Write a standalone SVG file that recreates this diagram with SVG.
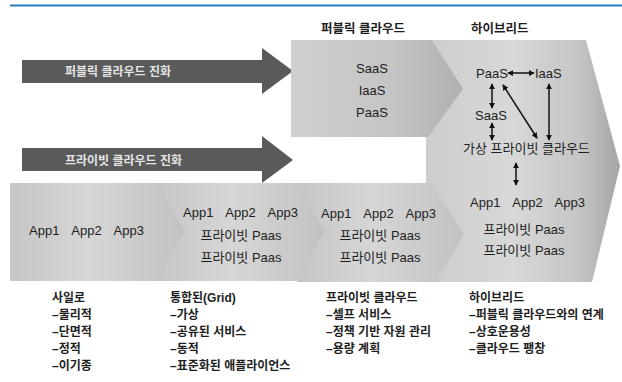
<svg xmlns="http://www.w3.org/2000/svg" width="622" height="382" viewBox="0 0 622 382">
<defs>
<linearGradient id="gHyb" x1="0" y1="0" x2="1" y2="0">
<stop offset="0" stop-color="#cdcdcd"/>
<stop offset="0.45" stop-color="#d8d8d8"/>
<stop offset="0.8" stop-color="#c4c4c4"/>
<stop offset="1" stop-color="#a4a4a4"/>
</linearGradient>
<linearGradient id="gPub" x1="0" y1="0" x2="1" y2="0">
<stop offset="0" stop-color="#d0d0d0"/>
<stop offset="0.6" stop-color="#c4c4c4"/>
<stop offset="1" stop-color="#b0b0b0"/>
</linearGradient>
<linearGradient id="gChev" x1="0" y1="0" x2="1" y2="0">
<stop offset="0" stop-color="#c6c6c6"/>
<stop offset="0.45" stop-color="#d6d6d6"/>
<stop offset="1" stop-color="#c2c2c2"/>
</linearGradient>
<marker id="ah" viewBox="0 0 8 8" refX="7" refY="4" markerWidth="6" markerHeight="6" markerUnits="userSpaceOnUse" orient="auto-start-reverse">
<path d="M0,0 L8,4 L0,8 z" fill="#111"/>
</marker>
<style>
.t{font-family:"Liberation Sans","Noto Sans CJK KR",sans-serif;fill:#1e1e1e;font-size:13px}
.c{text-anchor:middle}
.b{font-weight:bold;font-size:12px}
.h{font-weight:bold;font-size:12.5px}
.w{font-family:"Liberation Sans","Noto Sans CJK KR",sans-serif;font-weight:bold;font-size:12px;fill:#e4e4e4}
.arrow{fill:#5a5a5a}
.con{stroke:#111;stroke-width:1.5;fill:none;marker-start:url(#ah);marker-end:url(#ah)}
</style>
</defs>
<rect width="622" height="382" fill="#ffffff"/>
<line x1="10" y1="5.5" x2="622" y2="5.5" stroke="#2b7bbd" stroke-width="2"/>

<g id="public-evolution">
<polygon class="arrow" points="22,60 262,60 262,48 293,71 262,94 262,83 22,83"/>
<text class="w" x="65" y="76">퍼블릭 클라우드 진화</text>
</g>
<g id="private-evolution">
<polygon class="arrow" points="22,148 262,148 262,136 293,160 262,183 262,171 22,171"/>
<text class="w" x="65" y="165">프라이빗 클라우드 진화</text>
</g>

<g id="hybrid">
<polygon points="426,40 586,40 620,166 592,282 426,282" fill="url(#gHyb)"/>
<text class="t h" x="471" y="33">하이브리드</text>
<text class="t" x="476" y="78">PaaS</text>
<text class="t" x="535" y="78">IaaS</text>
<text class="t" x="475" y="120">SaaS</text>
<text class="t" x="463" y="153">가상 프라이빗 클라우드</text>
<text class="t" x="470" y="207" word-spacing="9">App1 App2 App3</text>
<text class="t c" x="524" y="234">프라이빗 Paas</text>
<text class="t c" x="524" y="255">프라이빗 Paas</text>
</g>

<g id="public-cloud">
<polygon points="291,40 432,40 463,89 428,137 291,137" fill="url(#gPub)"/>
<text class="t h" x="321" y="33">퍼블릭 클라우드</text>
<text class="t c" x="372" y="73" font-size="13.5">SaaS</text>
<text class="t c" x="372" y="95" font-size="13.5">IaaS</text>
<text class="t c" x="372" y="117" font-size="13.5">PaaS</text>
</g>

<g id="stage-private">
<polygon points="297,183 432,183 464,234 437,282 297,282" fill="url(#gChev)"/>
<text class="t" x="321" y="218" word-spacing="9">App1 App2 App3</text>
<text class="t c" x="380" y="240">프라이빗 Paas</text>
<text class="t c" x="380" y="262">프라이빗 Paas</text>
</g>
<g id="stage-grid">
<polygon points="157,183 297,183 325,231 297,281 157,281" fill="url(#gChev)"/>
<text class="t" x="183" y="217" word-spacing="9">App1 App2 App3</text>
<text class="t c" x="241" y="240">프라이빗 Paas</text>
<text class="t c" x="241" y="262">프라이빗 Paas</text>
</g>
<g id="stage-silo">
<polygon points="10,183 157,183 185,231 157,281 10,281" fill="url(#gChev)"/>
<text class="t" x="29" y="235" word-spacing="9">App1 App2 App3</text>
</g>

<g id="connectors">
<line class="con" x1="508" y1="73" x2="534" y2="73"/>
<line class="con" x1="492" y1="84" x2="492" y2="108"/>
<line class="con" x1="492" y1="123" x2="492" y2="140"/>
<line class="con" x1="503" y1="85" x2="537" y2="138"/>
<line class="con" x1="549" y1="84" x2="549" y2="140"/>
<line class="con" x1="516" y1="163" x2="516" y2="185"/>
</g>

<g id="list-silo">
<text class="t b" x="52" y="302">사일로</text>
<text class="t b" x="52" y="319">–물리적</text>
<text class="t b" x="52" y="336">–단면적</text>
<text class="t b" x="52" y="353">–정적</text>
<text class="t b" x="52" y="370">–이기종</text>
</g>
<g id="list-grid">
<text class="t b" x="170" y="302">통합된(Grid)</text>
<text class="t b" x="170" y="319">–가상</text>
<text class="t b" x="170" y="336">–공유된 서비스</text>
<text class="t b" x="170" y="353">–동적</text>
<text class="t b" x="170" y="370">–표준화된 애플라이언스</text>
</g>
<g id="list-private">
<text class="t b" x="326" y="302">프라이빗 클라우드</text>
<text class="t b" x="326" y="319">–셀프 서비스</text>
<text class="t b" x="326" y="336">–정책 기반 자원 관리</text>
<text class="t b" x="326" y="353">–용량 계획</text>
</g>
<g id="list-hybrid">
<text class="t b" x="469" y="302">하이브리드</text>
<text class="t b" x="469" y="319">–퍼블릭 클라우드와의 연계</text>
<text class="t b" x="469" y="336">–상호운용성</text>
<text class="t b" x="469" y="353">–클라우드 팽창</text>
</g>
</svg>
